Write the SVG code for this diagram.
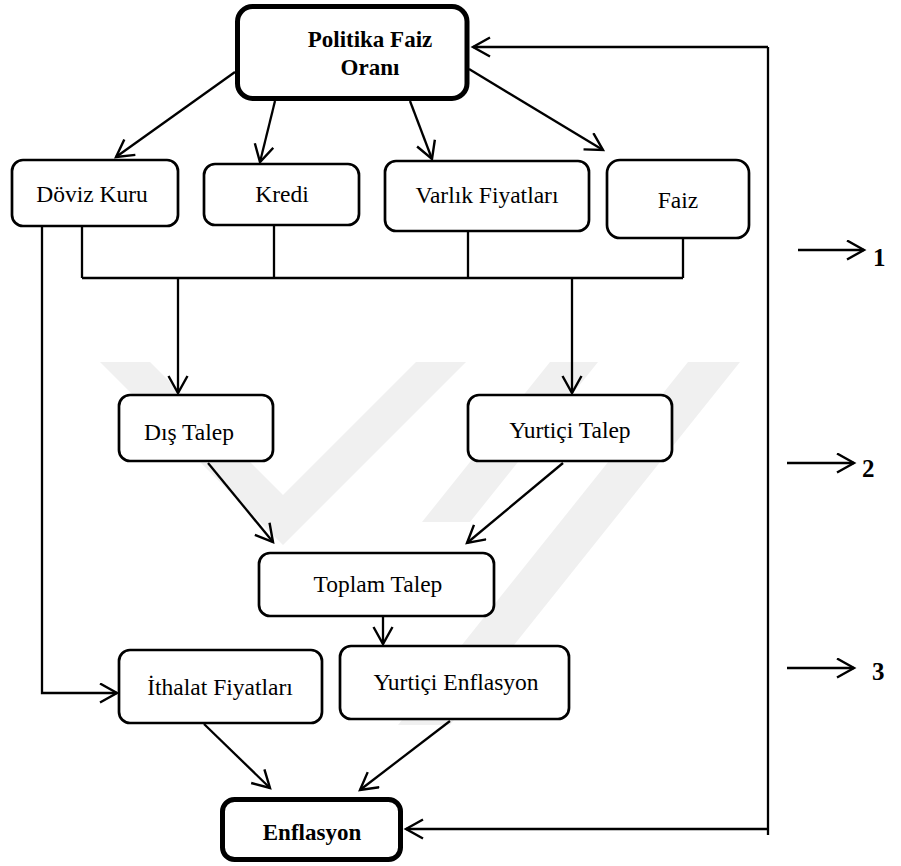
<svg xmlns="http://www.w3.org/2000/svg" width="901" height="866" viewBox="0 0 901 866">
<defs>
<style>
.box{fill:#fff;stroke:#000;stroke-width:2.7}
.thick{fill:#fff;stroke:#000;stroke-width:5}
text{font-family:'Liberation Serif','Times New Roman',serif;fill:#000}
.t{font-size:23.5px;text-anchor:middle}
.b{font-weight:bold;font-size:23px}
.n{font-weight:bold;font-size:25px}
.ln{stroke:#000;stroke-width:2.3;fill:none}
.arr{marker-end:url(#ah)}
.wm{fill:#f0f0f0}
</style>
<marker id="ah" markerUnits="userSpaceOnUse" markerWidth="24" markerHeight="24" viewBox="0 0 24 24" refX="18" refY="10.5" orient="auto">
<path d="M1,1 L18,10.5 L1,20" fill="none" stroke="#000" stroke-width="2.4"/>
</marker>
</defs>
<rect width="901" height="866" fill="#fff"/>
<g id="watermark">
<polygon class="wm" points="100,362 150,362 283,495 416,362 466,362 283,545"/>
<polygon class="wm" points="688,362 740,362 450,725 398,725"/>
<polygon class="wm" points="550,362 598,362 470,522 422,522"/>
</g>
<g id="connectors">
<path class="ln arr" d="M235,72 L116,157"/>
<path class="ln arr" d="M275,101 L260,162"/>
<path class="ln arr" d="M410,101 L432,159"/>
<path class="ln arr" d="M469,69 L603,150"/>
<path class="ln" d="M768,47 L768,835"/>
<path class="ln arr" d="M768,47 L473,47"/>
<path class="ln arr" d="M768,829 L406,829"/>
<path class="ln" d="M82,278 L683,278 M82,227 V278 M274,226 V278 M468,232 V278 M683,239 V278"/>
<path class="ln arr" d="M178,278 V393"/>
<path class="ln arr" d="M572,278 V393"/>
<path class="ln arr" d="M208,463 L273,542"/>
<path class="ln arr" d="M563,463 L467,543"/>
<path class="ln arr" d="M383,617 V644"/>
<path class="ln arr" d="M42,227 V693 H117"/>
<path class="ln arr" d="M204,724 L270,788"/>
<path class="ln arr" d="M450,721 L360,790"/>
<path class="ln arr" d="M798,250 H864"/>
<path class="ln arr" d="M787,463 H854"/>
<path class="ln arr" d="M787,668 H854"/>
</g>
<g id="n-politika"><rect class="thick" x="237.5" y="6.5" width="229.5" height="92" rx="15"/><text class="t b" x="370" y="47">Politika Faiz</text><text class="t b" x="370" y="75">Oranı</text></g>
<g id="n-doviz"><rect class="box" x="12" y="160" width="166" height="66" rx="11"/><text class="t" x="92" y="202">Döviz Kuru</text></g>
<g id="n-kredi"><rect class="box" x="204" y="164" width="155" height="61" rx="11"/><text class="t" x="282" y="202">Kredi</text></g>
<g id="n-varlik"><rect class="box" x="385" y="161" width="204" height="70" rx="11"/><text class="t" x="487" y="203">Varlık Fiyatları</text></g>
<g id="n-faiz"><rect class="box" x="607" y="160" width="142" height="78" rx="13"/><text class="t" x="678" y="208">Faiz</text></g>
<g id="n-dis"><rect class="box" x="119" y="395" width="154" height="66" rx="11"/><text class="t" x="189" y="440">Dış Talep</text></g>
<g id="n-yurtici"><rect class="box" x="468" y="395" width="204" height="66" rx="11"/><text class="t" x="570" y="438">Yurtiçi Talep</text></g>
<g id="n-toplam"><rect class="box" x="259" y="553" width="235" height="63" rx="11"/><text class="t" x="378" y="592">Toplam Talep</text></g>
<g id="n-ithalat"><rect class="box" x="119" y="650" width="203" height="73" rx="11"/><text class="t" x="220" y="695">İthalat Fiyatları</text></g>
<g id="n-yenf"><rect class="box" x="340" y="646" width="229" height="73" rx="11"/><text class="t" x="456" y="690">Yurtiçi Enflasyon</text></g>
<g id="n-enflasyon"><rect class="thick" x="222.5" y="799.5" width="178" height="60" rx="12"/><text class="t b" x="312" y="840">Enflasyon</text></g>
<g id="labels">
<text class="n" x="873" y="266">1</text>
<text class="n" x="862" y="477">2</text>
<text class="n" x="872" y="680">3</text>
</g>
</svg>
